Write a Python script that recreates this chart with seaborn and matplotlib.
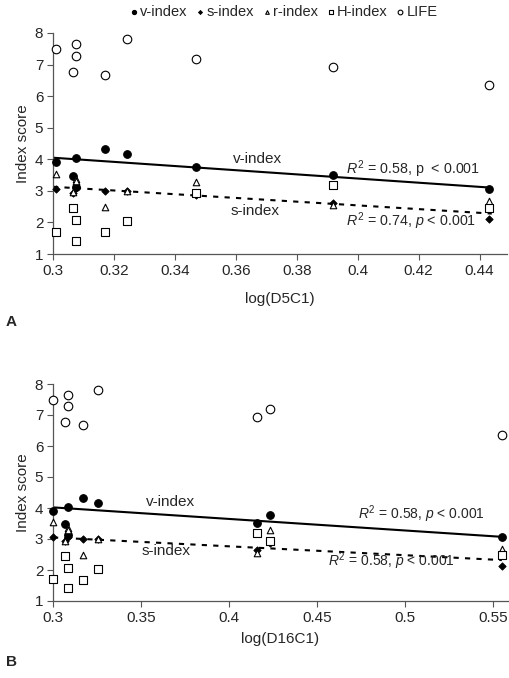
import matplotlib
matplotlib.use("Agg")
import matplotlib.pyplot as plt
import seaborn as sns
import numpy as np
import pandas as pd

# ---------------- data ----------------
x_d5c1  = [0.301, 0.3067, 0.3075, 0.3075, 0.317, 0.3244, 0.347, 0.392, 0.443]
x_d16c1 = [0.300, 0.3070, 0.3087, 0.3087, 0.317, 0.3254, 0.4233, 0.4157, 0.555]
v_index = [3.90, 3.47, 4.04, 3.12, 4.32, 4.17, 3.77, 3.51, 3.05]
s_index = [3.05, 2.92, 3.12, 3.08, 3.00, 3.00, 2.88, 2.63, 2.12]
r_index = [3.54, 2.95, 3.37, 3.30, 2.50, 3.01, 3.29, 2.55, 2.69]
h_index = [1.71, 2.45, 2.08, 1.42, 1.69, 2.03, 2.93, 3.19, 2.47]
life    = [7.50, 6.76, 7.64, 7.28, 6.68, 7.80, 7.18, 6.93, 6.35]

# fitted trend lines as drawn in the figure (x ends, y ends)
trend_a_x = [0.300, 0.444]
trend_a_v = [4.05, 3.10]
trend_a_s = [3.13, 2.28]
trend_b_x = [0.300, 0.555]
trend_b_v = [4.02, 3.07]
trend_b_s = [3.05, 2.32]

series_names = ["v-index", "s-index", "r-index", "H-index", "LIFE"]
series_vals = [v_index, s_index, r_index, h_index, life]

sns.set_style("ticks")
plt.rcParams['font.family'] = ['Liberation Sans', 'DejaVu Sans']
plt.rcParams['mathtext.fontset'] = 'custom'
plt.rcParams['mathtext.rm'] = 'Liberation Sans'
plt.rcParams['mathtext.it'] = 'Liberation Sans:italic'
plt.rcParams['mathtext.bf'] = 'Liberation Sans:bold'

fig = plt.figure(figsize=(5.10, 6.78), dpi=100)
W, H = 510, 678

def ax_rect(l, r, t, b):
    return [l / W, 1 - b / H, (r - l) / W, (b - t) / H]

axA = fig.add_axes(ax_rect(53, 507, 33, 254))
axB = fig.add_axes(ax_rect(53, 508, 384, 601))

styles = {
    "v-index": dict(marker="o", s=30, facecolor="black", edgecolor="black", linewidth=0.8),
    "s-index": dict(marker="D", s=14, facecolor="black", edgecolor="black", linewidth=0.6),
    "r-index": dict(marker="^", s=22, facecolor="white", edgecolor="black", linewidth=0.8),
    "H-index": dict(marker="s", s=28, facecolor="white", edgecolor="black", linewidth=0.8),
    "LIFE":    dict(marker="o", s=38, facecolor="white", edgecolor="black", linewidth=0.8),
}

def draw(ax, xs, tx, tv, ts):
    sns.lineplot(x=tx, y=tv, ax=ax, color="black", linewidth=1.5, zorder=1)
    sns.lineplot(x=tx, y=ts, ax=ax, color="black", linewidth=1.5, linestyle=(0, (2.5, 3)), zorder=1)
    for name, vals in zip(series_names, series_vals):
        df = pd.DataFrame({"x": xs, "y": vals})
        sns.scatterplot(data=df, x="x", y="y", ax=ax, label=name, zorder=3,
                        clip_on=False, **styles[name])
    ax.set_ylim(1, 8)
    ax.set_yticks(range(1, 9))
    ax.set_ylabel("Index score", fontsize=11)
    for sp in ["top", "right"]:
        ax.spines[sp].set_visible(False)
    for sp in ["left", "bottom"]:
        ax.spines[sp].set_color("#555555")
        ax.spines[sp].set_linewidth(0.9)
    ax.tick_params(axis="both", labelsize=11, length=4, width=0.8, color="#555555", pad=3)
    ax.legend_.remove()

draw(axA, x_d5c1, trend_a_x, trend_a_v, trend_a_s)
axA.set_xlim(0.3, 0.449)
axA.set_xticks([0.3, 0.32, 0.34, 0.36, 0.38, 0.4, 0.42, 0.44])
axA.set_xticklabels(["0.3", "0.32", "0.34", "0.36", "0.38", "0.4", "0.42", "0.44"])
axA.set_xlabel("log(D5C1)", fontsize=11, labelpad=10)

draw(axB, x_d16c1, trend_b_x, trend_b_v, trend_b_s)
axB.set_xlim(0.3, 0.5585)
axB.set_xticks([0.3, 0.35, 0.4, 0.45, 0.5, 0.55])
axB.set_xticklabels(["0.3", "0.35", "0.4", "0.45", "0.5", "0.55"])
axB.set_xlabel("log(D16C1)", fontsize=11, labelpad=5)

for ax in (axA, axB):
    ax.yaxis.set_label_coords(-0.05, 0.5)

# annotations (panel A)
axA.text(0.3672, 4.02, "v-index", fontsize=11, ha="center", va="center")
axA.text(0.3662, 2.37, "s-index", fontsize=11, ha="center", va="center")
axA.text(0.4182, 3.70, r"$R^2$ = 0.58, p  < 0.001", fontsize=10.3, ha="center", va="center")
axA.text(0.4174, 2.04, r"$R^2$ = 0.74, $p$ < 0.001", fontsize=10.3, ha="center", va="center")

# annotations (panel B)
axB.text(0.367, 4.19, "v-index", fontsize=11, ha="center", va="center")
axB.text(0.364, 2.61, "s-index", fontsize=11, ha="center", va="center")
axB.text(0.5094, 3.81, r"$R^2$ = 0.58, $p$ < 0.001", fontsize=10, ha="center", va="center")
axB.text(0.4923, 2.29, r"$R^2$ = 0.58, $p$ < 0.001", fontsize=10, ha="center", va="center")

fig.text(6 / W, 1 - 322 / H, "A", fontsize=11, fontweight="bold", va="center")
fig.text(6 / W, 1 - 662 / H, "B", fontsize=11, fontweight="bold", va="center")

handles, labels = axA.get_legend_handles_labels()
leg = fig.legend(handles, labels, loc="center", bbox_to_anchor=(283 / W, 1 - 12 / H), ncol=5,
                 frameon=False, fontsize=10.5, handletextpad=0.05, columnspacing=0.55,
                 markerscale=0.55, handlelength=0.7, borderaxespad=0)

fig.savefig("out.png", dpi=100)
